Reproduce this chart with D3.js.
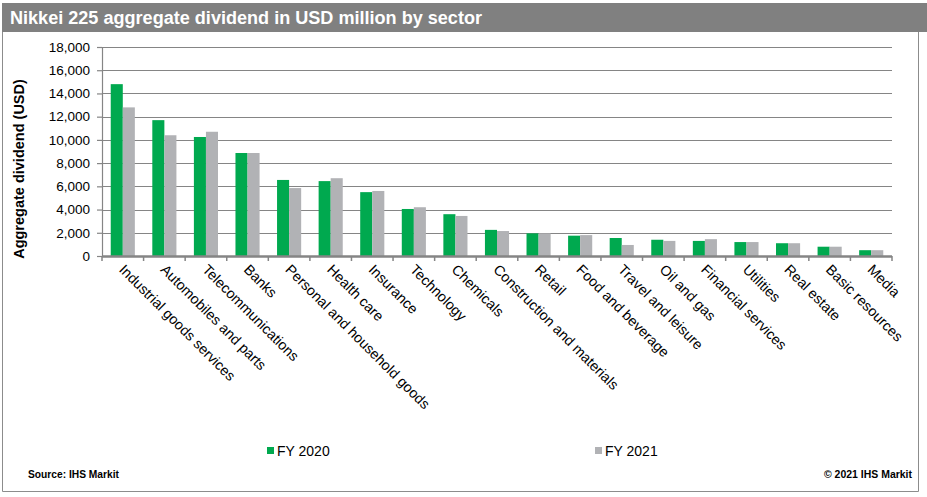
<!DOCTYPE html>
<html><head><meta charset="utf-8">
<script src="https://cdn.jsdelivr.net/npm/d3@7"></script>
<style>body{margin:0;background:#fff}svg{display:block}</style>
</head><body>
<svg id="c" width="927" height="497"></svg>
<script>
const categories = ["Industrial goods services","Automobiles and parts","Telecommunications","Banks","Personal and household goods","Health care","Insurance","Technology","Chemicals","Construction and materials","Retail","Food and beverage","Travel and leisure","Oil and gas","Financial services","Utilities","Real estate","Basic resources","Media"];
const fy2020 = [14800,11700,10250,8870,6550,6450,5500,4050,3600,2250,1950,1750,1550,1400,1300,1200,1100,800,500];
const fy2021 = [12800,10400,10700,8870,5850,6700,5600,4200,3450,2150,1950,1800,950,1300,1450,1200,1100,800,500];
const seriesNames = ["FY 2020","FY 2021"];
const colors = ["#00A94F","#B1B2B5"];
const yTicks = [0,2000,4000,6000,8000,10000,12000,14000,16000,18000];

const svg = d3.select("#c");
const font = "Arial, 'Liberation Sans', sans-serif";

// frame
svg.append("rect").attr("x",2).attr("y",3).attr("width",925).attr("height",29).attr("fill","#808080");
svg.append("path").attr("d","M2.5,32 V491.5 H918.5 V32").attr("fill","none").attr("stroke","#8c8c8c").attr("stroke-width",1);
svg.append("text").attr("x",10).attr("y",24).attr("fill","#fff").attr("font-family",font)
  .attr("font-weight","bold").attr("font-size",18).attr("textLength",472).attr("lengthAdjust","spacingAndGlyphs")
  .text("Nikkei 225 aggregate dividend in USD million by sector");

const x0 = d3.scaleBand().domain(categories).range([102,892]).paddingInner(0.42).paddingOuter(0.21);
const x1 = d3.scaleBand().domain(seriesNames).range([0,x0.bandwidth()]);
const y = d3.scaleLinear().domain([0,18000]).range([256,47]);
const xb = d3.scaleBand().domain(categories).range([102,892]);

// gridlines
svg.append("g").selectAll("line").data(yTicks.slice(1)).join("line")
  .attr("x1",102).attr("x2",892).attr("y1",d=>Math.round(y(d))+0.5).attr("y2",d=>Math.round(y(d))+0.5)
  .attr("stroke","#858585").attr("stroke-width",1.2);

// bars
const data = [fy2020, fy2021];
const g = svg.append("g");
categories.forEach((c,i)=>{
  seriesNames.forEach((s,j)=>{
    g.append("rect").attr("x",x0(c)+x1(s)).attr("width",x1.bandwidth())
      .attr("y",y(data[j][i])).attr("height",y(0)-y(data[j][i])).attr("fill",colors[j]);
  });
});

// y axis
const ya = svg.append("g").attr("transform","translate(102,0)")
  .call(d3.axisLeft(y).tickValues(yTicks).tickFormat(d3.format(",")).tickSize(5).tickPadding(7));
ya.select(".domain").attr("stroke","#858585").attr("stroke-width",1.2);
ya.selectAll(".tick line").attr("stroke","#858585").attr("stroke-width",1.2);
ya.selectAll("text").attr("font-family",font).attr("font-size",13.5).attr("fill","#000");

// x axis
const xaxisY = 256;
svg.append("line").attr("x1",102).attr("x2",892).attr("y1",xaxisY+0.5).attr("y2",xaxisY+0.5).attr("stroke","#858585").attr("stroke-width",2.5);
svg.append("g").selectAll("line").data(categories.concat(["_end"])).join("line")
  .attr("x1",(d,i)=>102+i*xb.step()).attr("x2",(d,i)=>102+i*xb.step())
  .attr("y1",xaxisY).attr("y2",xaxisY+5).attr("stroke","#858585").attr("stroke-width",1.5);
svg.append("g").selectAll("text").data(categories).join("text")
  .attr("transform",d=>`translate(${xb(d)+xb.bandwidth()/2-1},${xaxisY+11}) rotate(45)`)
  .attr("font-family",font).attr("font-size",14.3).attr("fill","#000").attr("dy","0.35em")
  .text(d=>d);

// y title
svg.append("text").attr("transform","translate(24,169) rotate(-90)").attr("text-anchor","middle")
  .attr("font-family",font).attr("font-weight","bold").attr("font-size",14.5).text("Aggregate dividend (USD)");

// legend
const legX = [267,595];
seriesNames.forEach((s,j)=>{
  svg.append("rect").attr("x",legX[j]).attr("y",447).attr("width",7).attr("height",7).attr("fill",colors[j]);
  svg.append("text").attr("x",legX[j]+10).attr("y",456).attr("font-family",font).attr("font-size",14).text(s);
});

// footer
svg.append("text").attr("x",28).attr("y",478).attr("font-family",font).attr("font-weight","bold").attr("font-size",11)
  .attr("textLength",91).attr("lengthAdjust","spacingAndGlyphs").text("Source: IHS Markit");
svg.append("text").attr("x",912).attr("y",478).attr("text-anchor","end").attr("font-family",font).attr("font-weight","bold").attr("font-size",11)
  .attr("textLength",88).attr("lengthAdjust","spacingAndGlyphs").text("© 2021 IHS Markit");
</script>
</body></html>
